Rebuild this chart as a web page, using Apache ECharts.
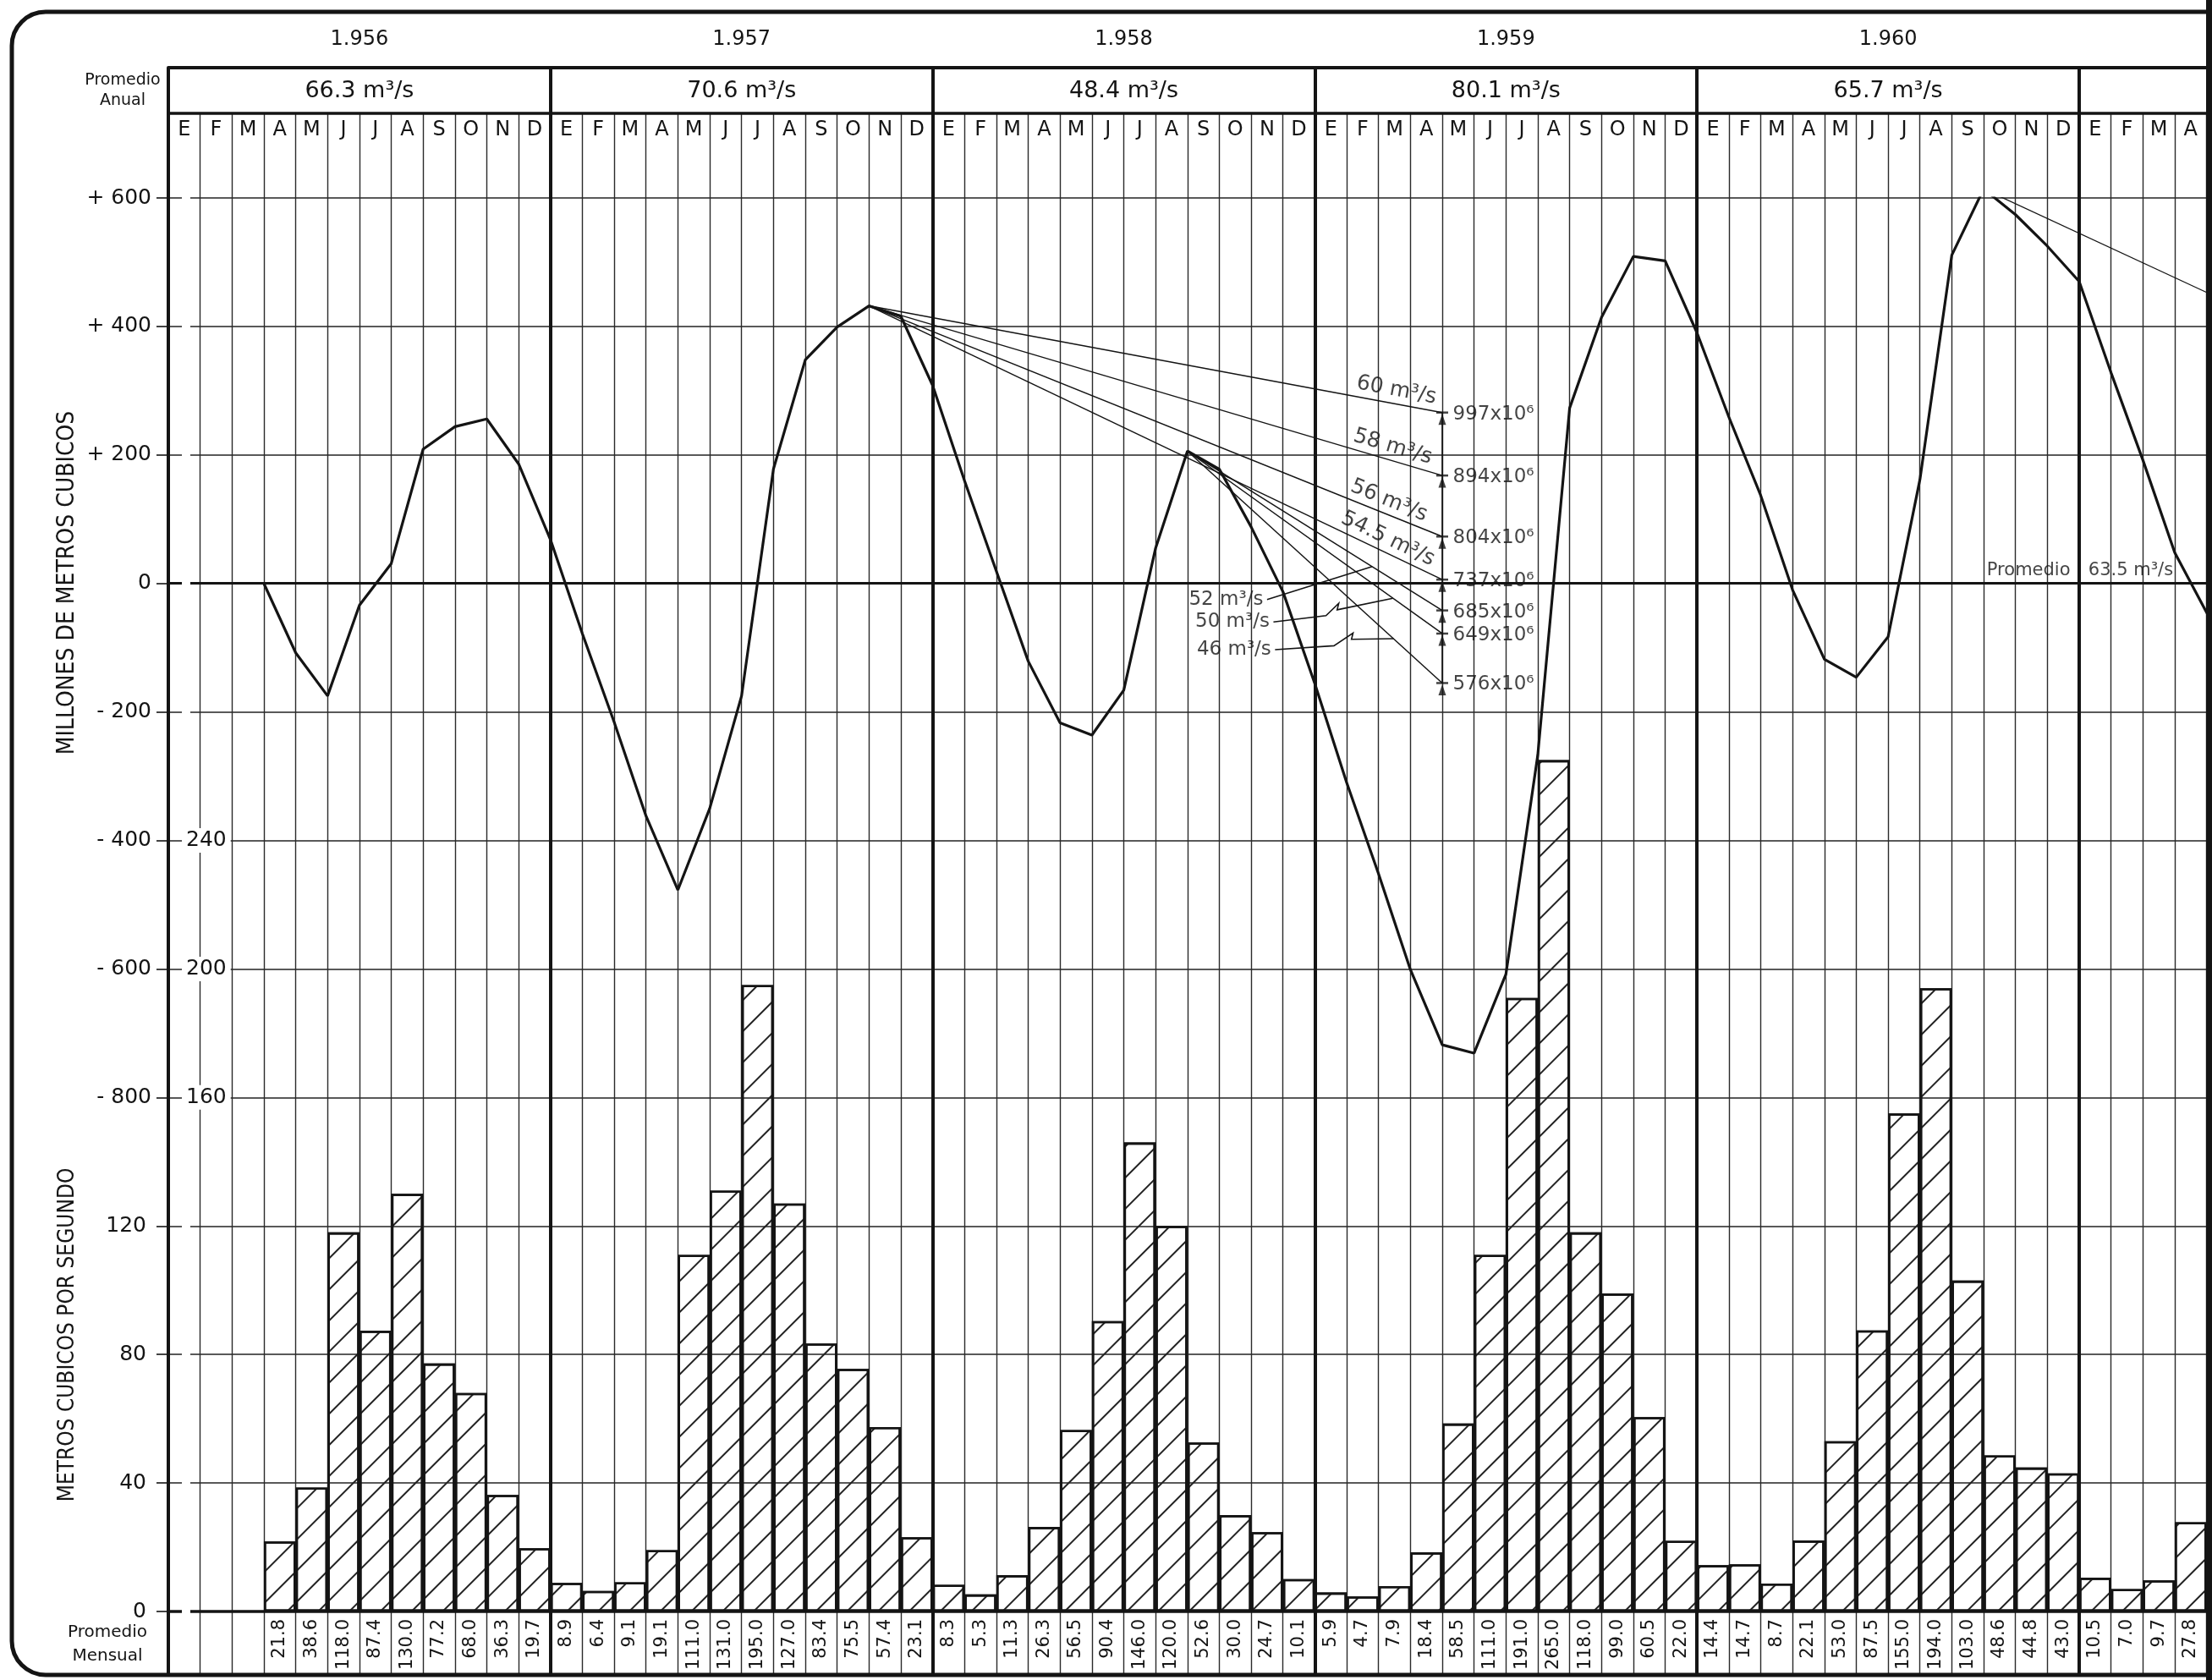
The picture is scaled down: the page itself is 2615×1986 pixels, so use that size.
<!DOCTYPE html>
<html>
<head>
<meta charset="utf-8">
<script src="https://cdn.jsdelivr.net/npm/echarts@6/dist/echarts.min.js"></script>
<style>
  html, body { margin: 0; padding: 0; background: #fff; }
  #chart { width: 2615px; height: 1986px; }
</style>
</head>
<body>
<div id="chart"></div>
<script>
// ---- data ----
var years = ['1.956', '1.957', '1.958', '1.959', '1.960'];
var annualMeans = [66.3, 70.6, 48.4, 80.1, 65.7];
var monthLetters = ['E', 'F', 'M', 'A', 'M', 'J', 'J', 'A', 'S', 'O', 'N', 'D'];

// caudal medio mensual (m3/s), Jan..Dec
var flow1956 = [null, null, null, 21.8, 38.6, 118.0, 87.4, 130.0, 77.2, 68.0, 36.3, 19.7];
var flow1957 = [8.9, 6.4, 9.1, 19.1, 111.0, 131.0, 195.0, 127.0, 83.4, 75.5, 57.4, 23.1];
var flow1958 = [8.3, 5.3, 11.3, 26.3, 56.5, 90.4, 146.0, 120.0, 52.6, 30.0, 24.7, 10.1];
var flow1959 = [5.9, 4.7, 7.9, 18.4, 58.5, 111.0, 191.0, 265.0, 118.0, 99.0, 60.5, 22.0];
var flow1960 = [14.4, 14.7, 8.7, 22.1, 53.0, 87.5, 155.0, 194.0, 103.0, 48.6, 44.8, 43.0];
var flow1961 = [10.5, 7.0, 9.7, 27.8, 30.5];

// curva de volumenes acumulados (10^6 m3), end of each month, starting end of March 1956
var storage1956 = [0, -108, -175, -34, 31, 209, 244, 256, 186, 68];
var storage1957 = [-78, -216, -362, -477, -350, -175, 178, 348, 399, 432, 416, 308];
var storage1958 = [160, 19, -121, -217, -236, -166, 55, 206, 178, 88, -13, -156];
var storage1959 = [-310, -452, -601, -718, -731, -608, -267, 273, 414, 509, 502, 390];
var storage1960 = [259, 137, -10, -118, -146, -83, 162, 511, 614, 574, 525, 470];
var storage1961 = [328, 192, 48, -45, -133];
var storageFirstMonth = 3;

// lineas de caudal regulado
var fanRates = [60, 58, 56, 54.5, 52, 50, 46];
var fanVolumes = [997, 894, 804, 737, 685, 649, 576];
var fanFromMonth = [22, 22, 22, 22, 32, 32, 32];
var fanEndValue = [266, 168, 73, 6, -42, -78, -155];
var fanEndMonth = 40;
var line1960 = [[57, 614], [65, 430]];
var meanFlow = 63.5;

// ---- layout ----
var X_MAX = 64.17;
var GRID_LEFT = 199, GRID_W = 2416;
var MAIN_TOP = 234, MAIN_H = 1671;
var S_MIN = -1600, S_MAX = 600;
var INK = '#141414';
var FONT = 'DejaVu Sans';
var monthPx = GRID_W / X_MAX;

var flowMonthly = [].concat(flow1956, flow1957, flow1958, flow1959, flow1960, flow1961);
var storageMonthEnd = [].concat(storage1956, storage1957, storage1958, storage1959, storage1960, storage1961);
function storageAt(k) { return storageMonthEnd[k - storageFirstMonth]; }

var barData = [];
flowMonthly.forEach(function (v, i) { if (v != null) barData.push([i + 0.5, v]); });
var curveData = storageMonthEnd.map(function (v, i) { return [i + storageFirstMonth, v]; });

function isHalf(v) { return Math.abs(v - Math.floor(v) - 0.5) < 0.01; }
function yearSlot(v) {
  var n = (v - 6) / 12;
  return Math.abs(n - Math.round(n)) < 0.01 ? Math.round(n) : -1;
}
function angleOf(dv, dk) {
  var px = dk * monthPx, py = dv * MAIN_H / (S_MAX - S_MIN);
  return Math.atan2(py, px) * 180 / Math.PI;
}

var fanLines = fanRates.map(function (r, i) {
  return [[fanFromMonth[i], storageAt(fanFromMonth[i])], [fanEndMonth, fanEndValue[i]]];
});
function onFan(i, k) {
  var a = fanLines[i][0], b = fanLines[i][1];
  return a[1] + (b[1] - a[1]) * (k - a[0]) / (b[0] - a[0]);
}

// rotated rate labels on the four long lines
var rateLabelAt = [38.5, 38.35, 38.2, 38.15];
var rateLabels = rateLabelAt.map(function (k, i) {
  var a = fanLines[i][0], b = fanLines[i][1];
  return {
    value: [k, onFan(i, k)],
    label: {
      formatter: fanRates[i] + ' m³/s',
      rotate: -angleOf(a[1] - b[1], b[0] - a[0])
    }
  };
});

// leader arrows for the short lines
var leaderStart = [[34.5, -25], [34.7, -60], [34.75, -103]];
var arrowPaths = [
  [leaderStart[0], [37.8, onFan(4, 37.8)]],
  [leaderStart[1], [36.35, -50], [36.75, -31], [36.7, -41], [38.45, onFan(5, 38.45)]],
  [leaderStart[2], [36.6, -97], [37.2, -77], [37.15, -87], [38.47, onFan(6, 38.47)]]
];

function baseX(grid, extra) {
  var o = {
    type: 'value', gridIndex: grid, min: 0, max: X_MAX,
    axisLine: { show: false }, axisTick: { show: false },
    axisLabel: { show: false }, splitLine: { show: false }
  };
  for (var key in extra) o[key] = extra[key];
  return o;
}
function hiddenY(grid) {
  return { type: 'value', gridIndex: grid, min: 0, max: 1, show: false };
}

var chart = echarts.init(document.getElementById('chart'), null, { renderer: 'canvas' });

var option = {
  animation: false,
  backgroundColor: '#fff',
  textStyle: { fontFamily: FONT, color: INK },
  grid: [
    { left: GRID_LEFT, width: GRID_W, top: MAIN_TOP, height: MAIN_H, outerBoundsMode: 'none' },
    { left: GRID_LEFT, width: GRID_W, top: 134, height: 1846, outerBoundsMode: 'none' },
    { left: GRID_LEFT, width: GRID_W, top: 80, height: 1900, outerBoundsMode: 'none' }
  ],
  xAxis: [
    // 0: main plot, bottom row of monthly values
    baseX(0, {
      position: 'bottom', interval: 0.5,
      axisLine: { show: true, onZero: false, lineStyle: { color: INK, width: 3.5 } },
      axisLabel: {
        show: true, rotate: 90, margin: 9, fontSize: 21, color: INK, hideOverlap: false,
        formatter: function (v) {
          if (!isHalf(v)) return '';
          var q = flowMonthly[Math.floor(v)];
          return q == null ? '' : q.toFixed(1);
        }
      }
    }),
    // 1: month grid lines
    baseX(1, {
      position: 'top', interval: 1,
      axisLine: { show: true, onZero: false, lineStyle: { color: INK, width: 3.5 } },
      splitLine: { show: true, showMaxLine: false, lineStyle: { color: '#2a2a2a', width: 1.4 } }
    }),
    // 2: annual means
    baseX(1, {
      position: 'top', interval: 6,
      axisLabel: {
        show: true, margin: 13, fontSize: 27, color: INK, hideOverlap: false,
        formatter: function (v) {
          var n = yearSlot(v);
          return n >= 0 && n < annualMeans.length ? annualMeans[n].toFixed(1) + ' m³/s' : '';
        }
      }
    }),
    // 3: month letters
    baseX(1, {
      position: 'top', interval: 0.5,
      axisLabel: {
        show: true, inside: true, margin: 8, fontSize: 24, color: INK, hideOverlap: false,
        formatter: function (v) { return isHalf(v) ? monthLetters[Math.floor(v) % 12] : ''; }
      }
    }),
    // 4: year separators
    baseX(2, {
      position: 'top', interval: 12,
      axisLine: { show: true, onZero: false, lineStyle: { color: INK, width: 4 } },
      splitLine: { show: true, showMaxLine: false, lineStyle: { color: INK, width: 4 } }
    }),
    // 5: year labels
    baseX(2, {
      position: 'top', interval: 6,
      axisLabel: {
        show: true, margin: 21, fontSize: 24, color: INK, hideOverlap: false,
        formatter: function (v) {
          var n = yearSlot(v);
          return n >= 0 && n < years.length ? years[n] : '';
        }
      }
    })
  ],
  yAxis: [
    {
      type: 'value', gridIndex: 0, min: S_MIN, max: S_MAX, interval: 200, position: 'left',
      axisLine: { show: false },
      axisTick: { show: true, length: 14, lineStyle: { color: INK, width: 1.6 } },
      splitLine: { show: true, lineStyle: { color: '#222', width: 1.5 } },
      axisLabel: {
        margin: 20, fontSize: 25, color: INK,
        formatter: function (v) {
          if (v > 0) return '+ ' + v;
          if (v === 0) return '0';
          return v >= -800 ? '- ' + (-v) : '';
        }
      }
    },
    {
      type: 'value', gridIndex: 0, min: 0, max: 440, interval: 40, position: 'left',
      axisLine: { show: false }, axisTick: { show: false }, splitLine: { show: false },
      axisLabel: {
        margin: 26, fontSize: 25, color: INK,
        formatter: function (v) { return v <= 120 ? String(v) : ''; }
      }
    },
    {
      type: 'value', gridIndex: 0, min: 0, max: 440, interval: 40, position: 'left', z: 5,
      axisLine: { show: false }, axisTick: { show: false }, splitLine: { show: false },
      axisLabel: {
        inside: true, margin: 16, fontSize: 25, color: INK,
        backgroundColor: '#fff', padding: [2, 5],
        formatter: function (v) { return v >= 160 && v <= 240 ? String(v) : ''; }
      }
    },
    hiddenY(1),
    hiddenY(2)
  ],
  series: [
    {
      type: 'bar', xAxisIndex: 0, yAxisIndex: 1, data: barData, barWidth: monthPx, silent: true,
      itemStyle: {
        color: 'rgba(255,255,255,0.01)', borderColor: INK, borderWidth: 2.6,
        decal: {
          symbol: 'rect', symbolSize: 1, color: '#222',
          dashArrayX: [1, 0], dashArrayY: [2, 24], rotation: -Math.PI / 4
        }
      },
      z: 2
    },
    {
      type: 'line', xAxisIndex: 0, yAxisIndex: 0, data: curveData, symbol: 'none', silent: true,
      lineStyle: { color: INK, width: 3.2 }, z: 4,
      markLine: {
        silent: true, symbol: 'none', label: { show: false },
        lineStyle: { color: INK, width: 3, type: 'solid' },
        data: [{ yAxis: 0 }]
      }
    }
  ].concat(fanLines.map(function (pts) {
    return {
      type: 'line', xAxisIndex: 0, yAxisIndex: 0, data: pts, symbol: 'none', silent: true,
      lineStyle: { color: INK, width: 1.5 }, z: 3
    };
  })).concat([
    {
      type: 'line', xAxisIndex: 0, yAxisIndex: 0, data: line1960, symbol: 'none', silent: true,
      lineStyle: { color: INK, width: 1.3 }, z: 3
    },
    {
      type: 'line', xAxisIndex: 0, yAxisIndex: 0, silent: true, symbol: 'none',
      data: [[fanEndMonth, fanEndValue[0]], [fanEndMonth, fanEndValue[fanEndValue.length - 1]]],
      lineStyle: { color: INK, width: 1.6 }, z: 3
    },
    {
      // tick + arrowhead at each required volume
      type: 'scatter', xAxisIndex: 0, yAxisIndex: 0, silent: true,
      symbol: 'rect', symbolSize: [14, 2.5], itemStyle: { color: INK },
      data: fanEndValue.map(function (v) { return [fanEndMonth, v]; }), z: 5
    },
    {
      type: 'scatter', xAxisIndex: 0, yAxisIndex: 0, silent: true,
      symbol: 'triangle', symbolSize: [9, 13], symbolOffset: [0, 8], itemStyle: { color: INK },
      data: fanEndValue.map(function (v) { return [fanEndMonth, v]; }), z: 5,
      label: {
        show: true, position: 'right', distance: 8, offset: [0, -6], fontSize: 23, color: INK,
        formatter: function (p) { return fanVolumes[p.dataIndex] + 'x10⁶'; }
      }
    },
    {
      type: 'scatter', xAxisIndex: 0, yAxisIndex: 0, silent: true,
      symbolSize: 1, itemStyle: { color: 'rgba(0,0,0,0)' }, data: rateLabels, z: 6,
      label: { show: true, position: 'top', distance: 3, fontSize: 25, color: INK }
    },
    {
      type: 'scatter', xAxisIndex: 0, yAxisIndex: 0, silent: true,
      symbolSize: 1, itemStyle: { color: 'rgba(0,0,0,0)' }, data: leaderStart, z: 6,
      label: {
        show: true, position: 'left', distance: 4, fontSize: 23, color: INK,
        formatter: function (p) { return fanRates[p.dataIndex + 4] + ' m³/s'; }
      }
    },
    {
      type: 'lines', coordinateSystem: 'cartesian2d', xAxisIndex: 0, yAxisIndex: 0,
      polyline: true, silent: true, symbol: ['none', 'arrow'], symbolSize: 13,
      lineStyle: { color: INK, width: 1.6, opacity: 1, curveness: 0 },
      data: arrowPaths.map(function (p) { return { coords: p }; }), z: 6
    },
    {
      type: 'scatter', xAxisIndex: 0, yAxisIndex: 0, silent: true,
      symbolSize: 1, itemStyle: { color: 'rgba(0,0,0,0)' }, data: [[57.1, 0]], z: 6,
      label: {
        show: true, position: 'top', align: 'left', distance: 4, fontSize: 21, color: INK,
        formatter: '{a|Promedio}{b|' + meanFlow.toFixed(1) + ' m³/s}',
        rich: { a: { width: 120, fontSize: 21 }, b: { fontSize: 21 } }
      }
    }
  ]),
  graphic: [
    {
      type: 'rect', silent: true, z: 100,
      shape: { x: 14, y: 14, width: 2800, height: 1966, r: 40 },
      style: { fill: 'none', stroke: INK, lineWidth: 5 }
    },
    {
      type: 'rect', silent: true, z: 100,
      shape: { x: 2608, y: 0, width: 7, height: 1986 },
      style: { fill: INK }
    },
    {
      type: 'text', x: 80, y: 689, rotation: Math.PI / 2, silent: true,
      style: {
        text: 'MILLONES DE METROS CUBICOS', fontSize: 28, fontFamily: 'DejaVu Sans Condensed',
        fill: INK, align: 'center', verticalAlign: 'middle'
      }
    },
    {
      type: 'text', x: 80, y: 1578, rotation: Math.PI / 2, silent: true,
      style: {
        text: 'METROS CUBICOS POR SEGUNDO', fontSize: 26, fontFamily: 'DejaVu Sans Condensed',
        fill: INK, align: 'center', verticalAlign: 'middle'
      }
    },
    {
      type: 'text', x: 145, y: 107, silent: true,
      style: {
        text: 'Promedio\nAnual', fontSize: 19, lineHeight: 24, fontFamily: FONT,
        fill: INK, align: 'center', verticalAlign: 'middle'
      }
    },
    {
      type: 'text', x: 127, y: 1944, silent: true,
      style: {
        text: 'Promedio\nMensual', fontSize: 20, lineHeight: 28, fontFamily: FONT,
        fill: INK, align: 'center', verticalAlign: 'middle'
      }
    }
  ]
};

chart.setOption(option);
</script>
</body>
</html>
